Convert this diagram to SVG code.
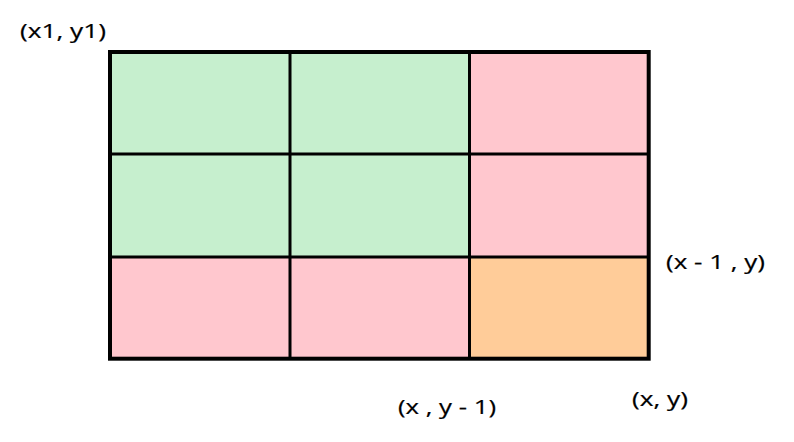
<svg xmlns="http://www.w3.org/2000/svg" width="794" height="442" viewBox="0 0 794 442">
<style>
.g{fill:#C6EFCE}.p{fill:#FFC7CE}.o{fill:#FFCC99}
.t{font-family:"Open Sans","Liberation Sans",sans-serif;font-size:20px;fill:#000;stroke:#000;stroke-width:0.2}
.l{stroke:#000;stroke-width:3;fill:none}
</style>
<rect width="794" height="442" fill="#fff"/>
<g id="cells">
<rect id="c00" class="g" x="110" y="52" width="180" height="102"/>
<rect id="c01" class="g" x="290" y="52" width="179.5" height="102"/>
<rect id="c02" class="p" x="469.5" y="52" width="179" height="102"/>
<rect id="c10" class="g" x="110" y="154" width="180" height="103"/>
<rect id="c11" class="g" x="290" y="154" width="179.5" height="103"/>
<rect id="c12" class="p" x="469.5" y="154" width="179" height="103"/>
<rect id="c20" class="p" x="110" y="257" width="180" height="101.7"/>
<rect id="c21" class="p" x="290" y="257" width="179.5" height="101.7"/>
<rect id="c22" class="o" x="469.5" y="257" width="179" height="101.7"/>
</g>
<g id="gridlines">
<line class="l" x1="290" y1="52" x2="290" y2="358.7"/>
<line class="l" x1="469.5" y1="52" x2="469.5" y2="358.7"/>
<line class="l" x1="110" y1="154" x2="648.7" y2="154"/>
<line class="l" x1="110" y1="257" x2="648.7" y2="257"/>
<rect x="110" y="52" width="538.7" height="306.7" fill="none" stroke="#000" stroke-width="4"/>
</g>
<g id="labels">
<text class="t" x="20" y="37.5" textLength="86" lengthAdjust="spacingAndGlyphs">(x1, y1)</text>
<text class="t" x="666" y="268.5" textLength="99" lengthAdjust="spacingAndGlyphs">(x - 1 , y)</text>
<text class="t" x="632" y="405.5" textLength="56" lengthAdjust="spacingAndGlyphs">(x, y)</text>
<text class="t" x="398" y="413.5" textLength="98" lengthAdjust="spacingAndGlyphs">(x , y - 1)</text>
</g>
</svg>
